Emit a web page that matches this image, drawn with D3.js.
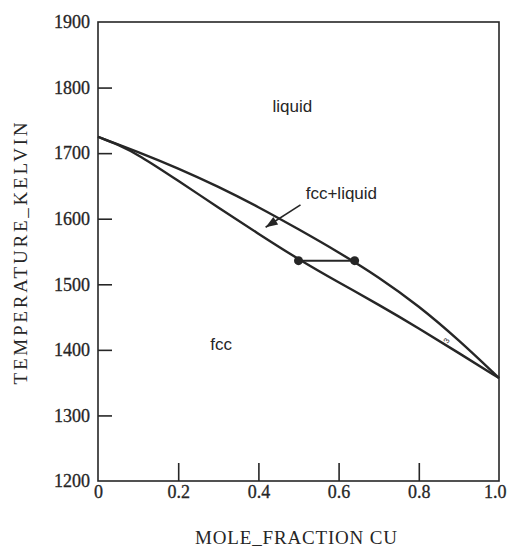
<!DOCTYPE html>
<html>
<head>
<meta charset="utf-8">
<script src="https://cdn.jsdelivr.net/npm/d3@7"></script>
<style>
  html, body { margin: 0; padding: 0; background: #fff; }
  svg { display: block; }
</style>
</head>
<body>
<svg id="chart" width="507" height="549"></svg>
<script>
// ---- data ----
const liquidusX = [0, 0.1, 0.2, 0.3, 0.4, 0.5, 0.6, 0.7, 0.8, 0.9, 1.0];
const liquidusT = [1725, 1702, 1677, 1649, 1618, 1584, 1549, 1511, 1467, 1415, 1357];
const solidusX = [0, 0.05, 0.1, 0.2, 0.3, 0.4, 0.5, 0.6, 0.7, 0.8, 0.9, 1.0];
const solidusT = [1725, 1713, 1698, 1658, 1617, 1577, 1538, 1503, 1469, 1433, 1395, 1357];
const tieLineX = [0.50, 0.64];
const tieLineT = [1536, 1536];
const xTicks = [0, 0.2, 0.4, 0.6, 0.8, 1.0];
const xTickLabels = ["0", "0.2", "0.4", "0.6", "0.8", "1.0"];
const yTicks = [1200, 1300, 1400, 1500, 1600, 1700, 1800, 1900];
const regionLabels = [
  {text: "liquid", x: 0.435, t: 1763},
  {text: "fcc+liquid", x: 0.518, t: 1630},
  {text: "fcc", x: 0.28, t: 1400}
];
const arrowFrom = {x: 0.505, t: 1621};
const arrowTo = {x: 0.418, t: 1587};

// ---- drawing ----
const svg = d3.select("#chart");
const ink = "#262626";
const x = d3.scaleLinear().domain([0, 1]).range([98, 499]);
const y = d3.scaleLinear().domain([1200, 1900]).range([481, 22]);

// frame
svg.append("rect")
  .attr("x", x(0)).attr("y", y(1900))
  .attr("width", x(1) - x(0)).attr("height", y(1200) - y(1900))
  .attr("fill", "none").attr("stroke", ink).attr("stroke-width", 1.6);

// y axis
const yAxis = svg.append("g")
  .attr("transform", `translate(${x(0)},0)`)
  .call(d3.axisLeft(y).tickValues(yTicks).tickSizeInner(-14).tickSizeOuter(0).tickFormat(d3.format("d")));
yAxis.select(".domain").remove();
yAxis.selectAll(".tick line").attr("stroke", ink).attr("stroke-width", 1.6)
  .filter(d => d === 1200 || d === 1900).remove();
yAxis.selectAll(".tick text")
  .attr("font-family", "'Liberation Serif', 'Times New Roman', serif")
  .attr("font-size", 18).attr("fill", ink)
  .attr("stroke", ink).attr("stroke-width", 0.3)
  .attr("x", -8);

// x axis
const xAxis = svg.append("g")
  .attr("transform", `translate(0,${y(1200)})`)
  .call(d3.axisBottom(x).tickValues(xTicks).tickSizeInner(-18).tickSizeOuter(0)
    .tickFormat((d, i) => xTickLabels[i]));
xAxis.select(".domain").remove();
xAxis.selectAll(".tick line").attr("stroke", ink).attr("stroke-width", 1.6)
  .filter(d => d === 0 || d === 1).remove();
xAxis.selectAll(".tick text")
  .attr("font-family", "'Liberation Serif', 'Times New Roman', serif")
  .attr("font-size", 18).attr("fill", ink)
  .attr("stroke", ink).attr("stroke-width", 0.3)
  .attr("y", 4);
xAxis.selectAll(".tick text").filter(d => d === 1)
  .attr("text-anchor", "end").attr("x", 506 - x(1));

// curves
const line = d3.line().x(d => x(d[0])).y(d => y(d[1])).curve(d3.curveBasis);
const liq = liquidusX.map((c, i) => [c, liquidusT[i]]);
const sol = solidusX.map((c, i) => [c, solidusT[i]]);
svg.append("path").attr("d", line(liq)).attr("fill", "none").attr("stroke", ink).attr("stroke-width", 2.4);
svg.append("path").attr("d", line(sol)).attr("fill", "none").attr("stroke", ink).attr("stroke-width", 2.4);

// tie line
svg.append("line")
  .attr("x1", x(tieLineX[0])).attr("y1", y(tieLineT[0]))
  .attr("x2", x(tieLineX[1])).attr("y2", y(tieLineT[1]))
  .attr("stroke", ink).attr("stroke-width", 2);
svg.selectAll("circle.tie").data(tieLineX).enter().append("circle")
  .attr("class", "tie")
  .attr("cx", d => x(d)).attr("cy", (d, i) => y(tieLineT[i]))
  .attr("r", 4.5).attr("fill", ink);

// region labels
svg.selectAll("text.region").data(regionLabels).enter().append("text")
  .attr("class", "region")
  .attr("x", d => x(d.x)).attr("y", d => y(d.t))
  .attr("font-family", "'Liberation Sans', Arial, sans-serif")
  .attr("font-size", 17).attr("fill", ink)
  .text(d => d.text);

// arrow
const ax1 = x(arrowFrom.x), ay1 = y(arrowFrom.t), ax2 = x(arrowTo.x), ay2 = y(arrowTo.t);
svg.append("line").attr("x1", ax1).attr("y1", ay1).attr("x2", ax2).attr("y2", ay2)
  .attr("stroke", ink).attr("stroke-width", 1.6);
const ang = Math.atan2(ay2 - ay1, ax2 - ax1);
const hl = 12, hw = 4.5;
const bx = ax2 - hl * Math.cos(ang), by = ay2 - hl * Math.sin(ang);
svg.append("path")
  .attr("d", `M${ax2},${ay2}L${bx - hw * Math.sin(ang)},${by + hw * Math.cos(ang)}L${bx + hw * Math.sin(ang)},${by - hw * Math.cos(ang)}Z`)
  .attr("fill", ink);

// small mark between curves near Cu side
svg.append("text")
  .attr("transform", `translate(${x(0.875)},${y(1412)}) rotate(-60)`)
  .attr("font-family", "'Liberation Sans', Arial, sans-serif")
  .attr("font-size", 8).attr("fill", ink).attr("text-anchor", "middle")
  .text("3");

// axis titles
svg.append("text")
  .attr("transform", `translate(27,${(y(1200) + y(1900)) / 2 + 2}) rotate(-90)`)
  .attr("text-anchor", "middle")
  .attr("font-family", "'Liberation Serif', 'Times New Roman', serif")
  .attr("font-size", 19).attr("fill", ink)
  .attr("textLength", 262).attr("lengthAdjust", "spacing")
  .text("TEMPERATURE_KELVIN");
svg.append("text")
  .attr("x", 296).attr("y", 544)
  .attr("text-anchor", "middle")
  .attr("font-family", "'Liberation Serif', 'Times New Roman', serif")
  .attr("font-size", 19).attr("fill", ink)
  .attr("textLength", 202).attr("lengthAdjust", "spacing")
  .text("MOLE_FRACTION CU");
</script>
</body>
</html>
